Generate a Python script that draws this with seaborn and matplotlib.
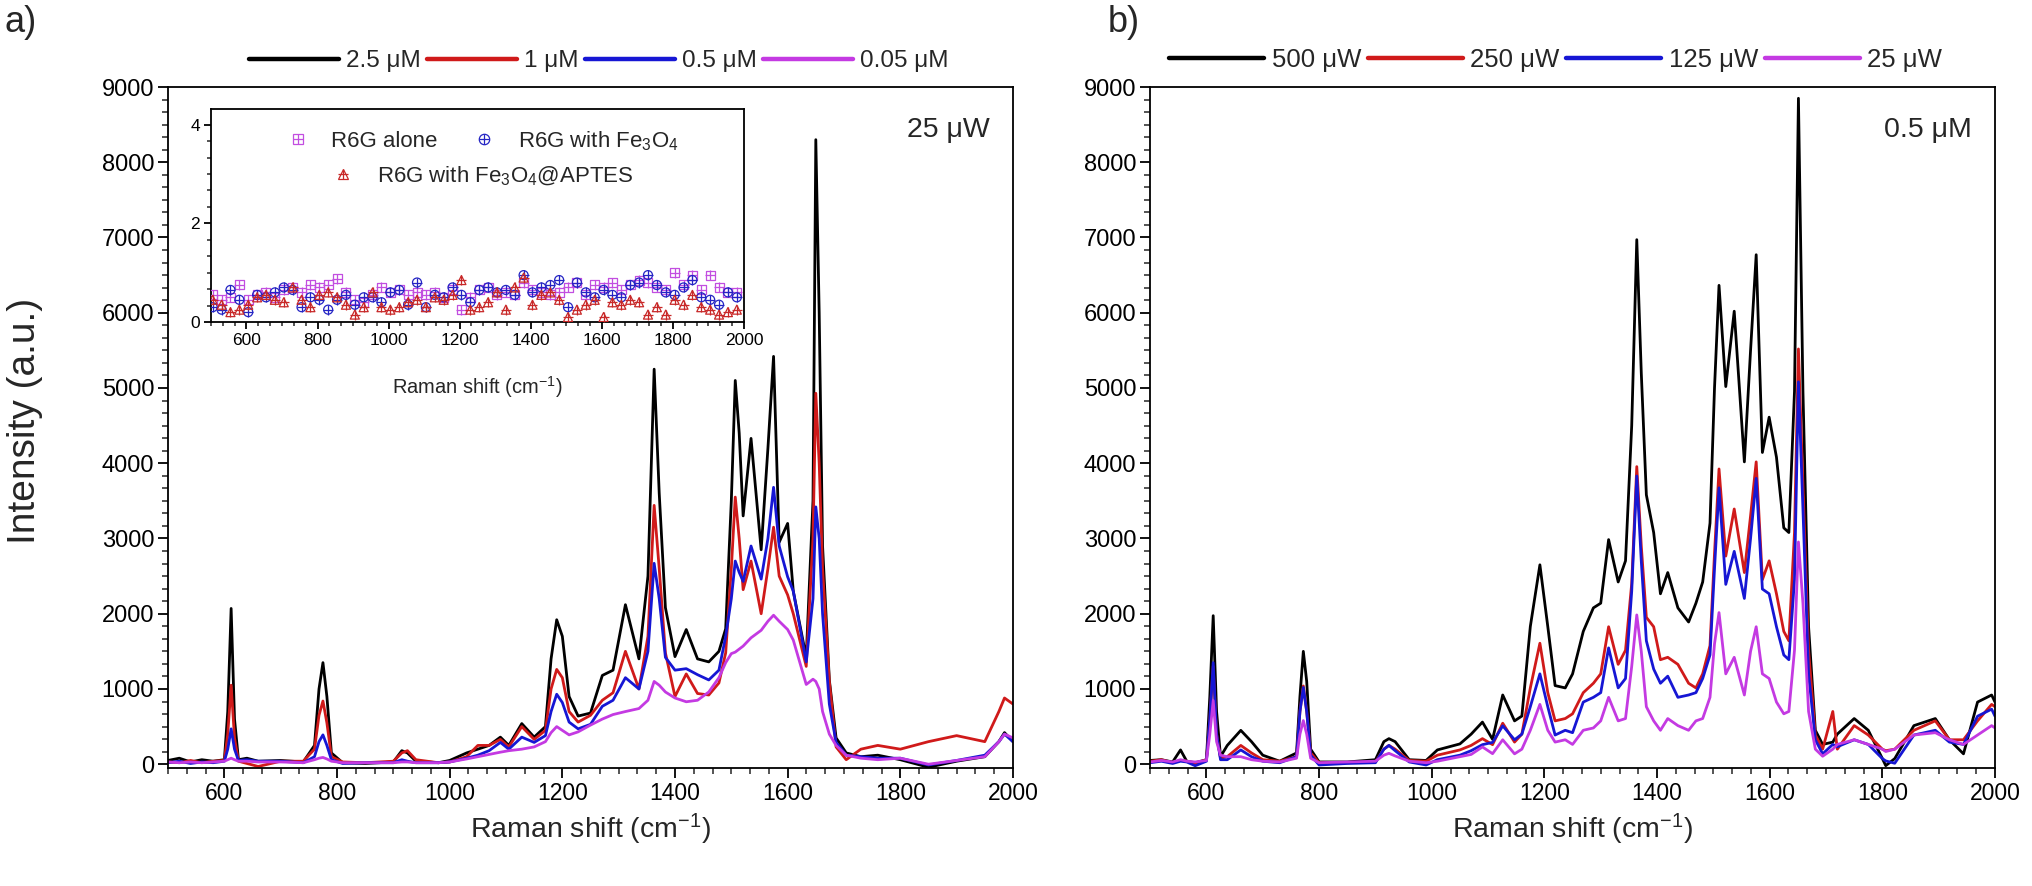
import pandas as pd
import matplotlib
matplotlib.use("Agg")
import matplotlib.pyplot as plt
import seaborn as sns
from matplotlib.ticker import MultipleLocator, AutoMinorLocator
from matplotlib.lines import Line2D
from matplotlib.legend_handler import HandlerTuple

# -----------------------
# a) concentration series at 25 uW
# -----------------------
SHIFT_A = [500, 520, 540, 560, 580, 600, 606, 612, 618, 625,
           640, 660, 700, 740, 760, 768, 775, 782, 790, 810,
           850, 900, 915, 925, 940, 980, 1000, 1030, 1050, 1070,
           1090, 1105, 1128, 1150, 1170, 1180, 1190, 1200, 1212, 1228,
           1250, 1271, 1290, 1312, 1336, 1352, 1363, 1372, 1383, 1400,
           1420, 1440, 1460, 1478, 1490, 1500, 1507, 1514, 1521, 1535,
           1553, 1565, 1575, 1585, 1600, 1610, 1633, 1645, 1650, 1656,
           1662, 1674, 1686, 1704, 1730, 1760, 1800, 1850, 1900, 1950,
           1975, 1985, 2000]
A_2P5UM = [50, 80, 30, 60, 40, 60, 700, 2070, 600, 60,
           80, 40, 50, 30, 250, 1000, 1350, 900, 150, 20,
           10, 30, 180, 150, 40, 20, 50, 150, 200, 250,
           360, 250, 540, 360, 500, 1400, 1920, 1700, 900, 640,
           680, 1180, 1250, 2120, 1400, 2500, 5250, 3600, 2080, 1430,
           1790, 1400, 1360, 1500, 1800, 3500, 5100, 4400, 3300, 4330,
           2850, 4200, 5420, 2950, 3200, 2300, 1420, 3500, 8300, 6000,
           2900, 1120, 350, 150, 100, 120, 60, -40, 40, 100,
           300, 420, 300]
A_1UM = [30, 20, 50, 20, 40, 50, 400, 1050, 350, 40,
         10, -30, 40, 40, 200, 650, 840, 550, 100, 30,
         20, 40, 150, 180, 60, 20, 30, 100, 250, 250,
         330, 230, 500, 330, 450, 1000, 1260, 1150, 700, 560,
         650, 850, 950, 1500, 1000, 1700, 3440, 2600, 1480, 900,
         1200, 940, 920, 1080, 1480, 2600, 3550, 3000, 2320, 2700,
         2000, 2600, 3150, 2500, 2250, 2000, 1300, 3000, 4930, 4000,
         2600, 1100, 230, 60, 200, 250, 200, 300, 380, 300,
         700, 880, 800]
A_0P5UM = [20, 40, 10, 30, 20, 40, 200, 470, 200, 50,
           60, 40, 40, 20, 100, 300, 390, 250, 60, 10,
           20, 20, 60, 40, 20, 20, 30, 80, 120, 180,
           290, 200, 360, 290, 380, 700, 930, 820, 560, 470,
           530, 770, 850, 1150, 1000, 1500, 2670, 2200, 1420, 1250,
           1270, 1190, 1120, 1250, 1700, 2200, 2700, 2550, 2430, 2900,
           2460, 3000, 3680, 2900, 2490, 2300, 1360, 2200, 3420, 3000,
           2000, 800, 290, 120, 100, 80, 80, -10, 50, 120,
           300, 400, 300]
A_0P05UM = [30, 20, 30, 20, 30, 40, 60, 80, 60, 40,
            40, 30, 30, 20, 60, 80, 90, 70, 40, 20,
            20, 20, 30, 30, 20, 20, 30, 70, 100, 130,
            160, 180, 200, 230, 300, 420, 500, 450, 390, 430,
            520, 600, 660, 700, 740, 850, 1100, 1050, 960, 880,
            830, 850, 960, 1150, 1350, 1470, 1490, 1530, 1570, 1680,
            1780, 1900, 1980, 1900, 1790, 1650, 1060, 1130, 1100, 1000,
            700, 400, 250, 120, 80, 60, 80, 0, 50, 100,
            300, 400, 350]
LABELS_A = ["2.5 \u03bcM", "1 \u03bcM", "0.5 \u03bcM", "0.05 \u03bcM"]

# -----------------------
# b) power series at 0.5 uM
# -----------------------
SHIFT_B = [500, 520, 540, 554, 565, 580, 600, 606, 612, 618,
           625, 637, 661, 680, 700, 730, 760, 766, 772, 778,
           785, 800, 850, 900, 915, 924, 935, 960, 990, 1010,
           1050, 1070, 1090, 1108, 1126, 1147, 1160, 1175, 1192, 1206,
           1219, 1237, 1250, 1269, 1287, 1300, 1314, 1331, 1344, 1355,
           1364, 1372, 1381, 1394, 1406, 1419, 1437, 1456, 1469, 1481,
           1494, 1502, 1510, 1522, 1537, 1555, 1566, 1576, 1587, 1599,
           1612, 1625, 1634, 1644, 1651, 1659, 1669, 1681, 1694, 1712,
           1720, 1750, 1775, 1800, 1806, 1822, 1856, 1894, 1919, 1944,
           1969, 1994, 2000]
B_500UW = [50, 60, 30, 190, 40, 20, 60, 900, 1974, 700,
           100, 250, 450, 300, 120, 40, 150, 900, 1500, 1100,
           200, 30, 30, 60, 300, 340, 300, 60, 50, 190,
           270, 400, 560, 330, 920, 576, 640, 1830, 2650, 1830,
           1045, 1014, 1200, 1765, 2078, 2140, 2985, 2422, 2703, 4500,
           6971, 5200, 3580, 3079, 2265, 2547, 2078, 1890, 2140, 2422,
           3204, 5000, 6364, 5019, 6020, 4018, 5500, 6771, 4143, 4612,
           4080, 3141, 3079, 4956, 8850, 4956, 1827, 451, 263, 294,
           400, 607, 451, 75, -19, 75, 513, 607, 325, 138,
           826, 920, 826]
B_250UW = [40, 60, 20, 50, 40, 10, 60, 600, 1300, 400,
           80, 100, 250, 150, 60, 40, 100, 700, 1040, 700,
           150, 20, 20, 30, 200, 250, 200, 50, 40, 120,
           190, 250, 340, 260, 545, 294, 400, 1014, 1608, 951,
           576, 607, 670, 951, 1076, 1201, 1827, 1327, 1514, 2400,
           3955, 2900, 1952, 1827, 1389, 1421, 1327, 1076, 1014, 1201,
           1577, 2800, 3924, 2766, 3392, 2547, 3300, 4018, 2453, 2703,
           2265, 1765, 1640, 3079, 5519, 3705, 1514, 388, 200, 701,
           200, 513, 388, 200, 180, 200, 451, 576, 325, 325,
           576, 795, 764]
B_125UW = [20, 40, 10, 40, 30, -20, 40, 600, 1350, 400,
           60, 60, 190, 100, 40, 20, 100, 700, 1020, 700,
           120, -10, 10, 20, 200, 250, 180, 30, -10, 60,
           120, 180, 260, 290, 510, 325, 400, 764, 1201, 764,
           388, 451, 419, 826, 889, 951, 1546, 1014, 1139, 2300,
           3830, 2700, 1640, 1264, 1076, 1170, 889, 920, 951, 1139,
           1452, 2600, 3673, 2390, 2829, 2203, 3000, 3799, 2328, 2265,
           1827, 1452, 1389, 2453, 5081, 3392, 1201, 325, 138, 263,
           232, 325, 263, 75, 44, 13, 388, 451, 294, 263,
           638, 732, 638]
B_25UW = [30, 50, 30, 60, 40, 30, 50, 400, 846, 300,
          120, 100, 100, 60, 40, 30, 80, 400, 580, 400,
          80, 20, 30, 40, 120, 145, 110, 40, 20, 40,
          100, 130, 230, 140, 325, 138, 200, 451, 795, 451,
          294, 325, 263, 451, 482, 576, 889, 576, 607, 1300,
          1984, 1500, 764, 576, 451, 607, 513, 451, 576, 607,
          889, 1600, 2015, 1201, 1421, 920, 1500, 1827, 1201, 1139,
          826, 670, 701, 1514, 2954, 2140, 701, 200, 106, 200,
          263, 325, 263, 200, 169, 200, 388, 419, 325, 263,
          388, 513, 482]
LABELS_B = ["500 \u03bcW", "250 \u03bcW", "125 \u03bcW", "25 \u03bcW"]

# -----------------------
# inset: controls (normalised)
# -----------------------
INSET_SHIFT = [505, 530, 555, 580, 605, 630, 655, 680, 705, 730,
               755, 780, 805, 830, 855, 880, 905, 930, 955, 980,
               1005, 1030, 1055, 1080, 1105, 1130, 1155, 1180, 1205, 1230,
               1255, 1280, 1305, 1330, 1355, 1380, 1405, 1430, 1455, 1480,
               1505, 1530, 1555, 1580, 1605, 1630, 1655, 1680, 1705, 1730,
               1755, 1780, 1805, 1830, 1855, 1880, 1905, 1930, 1955, 1980]
INSET_ALONE = [0.55, 0.45, 0.50, 0.75, 0.45, 0.55, 0.60, 0.50, 0.65, 0.70,
               0.60, 0.75, 0.70, 0.75, 0.88, 0.60, 0.45, 0.40, 0.55, 0.70,
               0.60, 0.65, 0.55, 0.60, 0.55, 0.60, 0.50, 0.65, 0.25, 0.50,
               0.65, 0.70, 0.55, 0.60, 0.55, 0.80, 0.65, 0.60, 0.55, 0.60,
               0.70, 0.80, 0.55, 0.75, 0.70, 0.80, 0.65, 0.75, 0.85, 0.80,
               0.70, 0.65, 1.00, 0.75, 0.95, 0.65, 0.95, 0.70, 0.60, 0.60]
INSET_FE3O4 = [0.30, 0.25, 0.65, 0.45, 0.20, 0.55, 0.50, 0.60, 0.70, 0.65,
               0.30, 0.50, 0.45, 0.25, 0.45, 0.55, 0.35, 0.50, 0.50, 0.40,
               0.60, 0.65, 0.35, 0.80, 0.30, 0.55, 0.50, 0.70, 0.55, 0.40,
               0.65, 0.70, 0.60, 0.65, 0.55, 0.95, 0.60, 0.70, 0.75, 0.85,
               0.30, 0.80, 0.60, 0.50, 0.65, 0.55, 0.50, 0.75, 0.80, 0.95,
               0.75, 0.60, 0.55, 0.70, 0.85, 0.50, 0.45, 0.35, 0.60, 0.50]
INSET_APTES = [0.45, 0.35, 0.20, 0.25, 0.35, 0.50, 0.55, 0.45, 0.40, 0.70,
               0.45, 0.30, 0.55, 0.60, 0.50, 0.35, 0.15, 0.30, 0.60, 0.30,
               0.25, 0.30, 0.40, 0.45, 0.30, 0.50, 0.45, 0.55, 0.85, 0.25,
               0.30, 0.40, 0.60, 0.25, 0.70, 0.90, 0.35, 0.55, 0.60, 0.45,
               0.10, 0.25, 0.35, 0.45, 0.10, 0.40, 0.35, 0.45, 0.40, 0.15,
               0.30, 0.15, 0.45, 0.35, 0.55, 0.30, 0.25, 0.15, 0.20, 0.25]
INSET_LABELS = ["R6G alone", "R6G with Fe$_3$O$_4$", "R6G with Fe$_3$O$_4$@APTES"]

COLORS = ["#000000", "#d01a1a", "#1616d4", "#c43ae2"]
INSET_COLORS = ["#c24ee0", "#2424c4", "#c82828"]

sns.set_style("ticks")
plt.rcParams["font.family"] = ["Liberation Sans", "DejaVu Sans"]
plt.rcParams["mathtext.fontset"] = "custom"
plt.rcParams["mathtext.rm"] = "Liberation Sans"
plt.rcParams["mathtext.it"] = "Liberation Sans:italic"
plt.rcParams["mathtext.bf"] = "Liberation Sans:bold"


def long_table(shift, series, labels):
    frames = [pd.DataFrame({"shift": shift, "intensity": v, "label": lab})
              for lab, v in zip(labels, series)]
    return pd.concat(frames, ignore_index=True)


def style_axis(ax, xmaj, ymaj, size, lmaj, lmin, pad=3):
    ax.xaxis.set_major_locator(MultipleLocator(xmaj))
    ax.xaxis.set_minor_locator(AutoMinorLocator(6))
    ax.yaxis.set_major_locator(MultipleLocator(ymaj))
    ax.yaxis.set_minor_locator(AutoMinorLocator(6))
    ax.tick_params(which="major", direction="out", length=lmaj, width=1.3,
                   labelsize=size, top=False, right=False, colors="black", pad=pad)
    ax.tick_params(which="minor", direction="out", length=lmin, width=1.1,
                   top=False, right=False)
    for sp in ax.spines.values():
        sp.set_linewidth(1.3)
        sp.set_color("black")


fig = plt.figure(figsize=(20.32, 8.86), dpi=100)
ax_a = fig.add_axes([0.0827, 0.1332, 0.4158, 0.7686])
ax_b = fig.add_axes([0.566, 0.1332, 0.4158, 0.7686])

panels = [
    (ax_a, SHIFT_A, [A_2P5UM, A_1UM, A_0P5UM, A_0P05UM], LABELS_A, "25 \u03bcW", 17.5, 0.51),
    (ax_b, SHIFT_B, [B_500UW, B_250UW, B_125UW, B_25UW], LABELS_B, "0.5 \u03bcM", 18.5, 0.48),
]

for ax, shift, series, labels, note, legsize, legx in panels:
    df = long_table(shift, series, labels)
    sns.lineplot(data=df, x="shift", y="intensity", hue="label",
                 hue_order=labels, palette=dict(zip(labels, COLORS)),
                 estimator=None, sort=False, lw=2.0, ax=ax)
    ax.set_xlim(500, 2000)
    ax.set_ylim(-50, 9000)
    style_axis(ax, 200, 1000, 17, 7, 4)
    ax.tick_params(axis="x", labelsize=16.5)
    ax.set_xlabel("Raman shift (cm$^{-1}$)", fontsize=20.5, labelpad=5)
    ax.set_ylabel("")
    handles, labs = ax.get_legend_handles_labels()
    leg = ax.legend(handles, labs, loc="lower center", bbox_to_anchor=(legx, 1.0),
                    ncol=4, frameon=False, handlelength=3.7, handletextpad=0.3,
                    columnspacing=0.25, borderaxespad=0.2, fontsize=legsize)
    for ln in leg.get_lines():
        ln.set_linewidth(3.2)
    ax.text(0.973, 0.937, note, transform=ax.transAxes, ha="right", va="center",
            fontsize=20.5)

ax_a.set_ylabel("Intensity (a.u.)", fontsize=28)
ax_a.yaxis.set_label_coords(-0.148, 0.51)

# inset with the control measurements
ax_in = fig.add_axes([0.1038, 0.6366, 0.2623, 0.2404])
inset_series = [INSET_ALONE, INSET_FE3O4, INSET_APTES]
markers = ["s", "o", "^"]
handles = []
for vals, mk, col in zip(inset_series, markers, INSET_COLORS):
    sns.scatterplot(x=INSET_SHIFT, y=vals, marker=mk, s=42, facecolor="none",
                    edgecolor=col, linewidth=0.9, ax=ax_in, zorder=3)
    sns.scatterplot(x=INSET_SHIFT, y=vals, marker="+", s=42, color=col,
                    linewidth=0.9, ax=ax_in, zorder=3)
    handles.append((Line2D([], [], ls="none", marker=mk, mfc="none", mec=col, ms=7.5, mew=0.9),
                    Line2D([], [], ls="none", marker="+", color=col, ms=7.5, mew=0.9)))
ax_in.set_xlim(500, 2000)
ax_in.set_ylim(0, 4.32)
style_axis(ax_in, 200, 2, 12.5, 5, 3)
ax_in.set_xlabel("Raman shift (cm$^{-1}$)", fontsize=14.5, labelpad=19)
ax_in.set_ylabel("")
leg1 = ax_in.legend(handles[:2], INSET_LABELS[:2], loc="center", bbox_to_anchor=(0.51, 0.85),
                    ncol=2, frameon=False, fontsize=16, handlelength=1.0,
                    handletextpad=1.0, columnspacing=1.6,
                    handler_map={tuple: HandlerTuple(ndivide=1)})
ax_in.add_artist(leg1)
ax_in.legend(handles[2:], INSET_LABELS[2:], loc="center", bbox_to_anchor=(0.51, 0.685),
             frameon=False, fontsize=16, handlelength=1.0, handletextpad=1.0,
             handler_map={tuple: HandlerTuple(ndivide=1)})

fig.text(0.002, 0.975, "a)", fontsize=26, va="center", ha="left")
fig.text(0.545, 0.975, "b)", fontsize=26, va="center", ha="left")

fig.savefig("out.png", dpi=100)
